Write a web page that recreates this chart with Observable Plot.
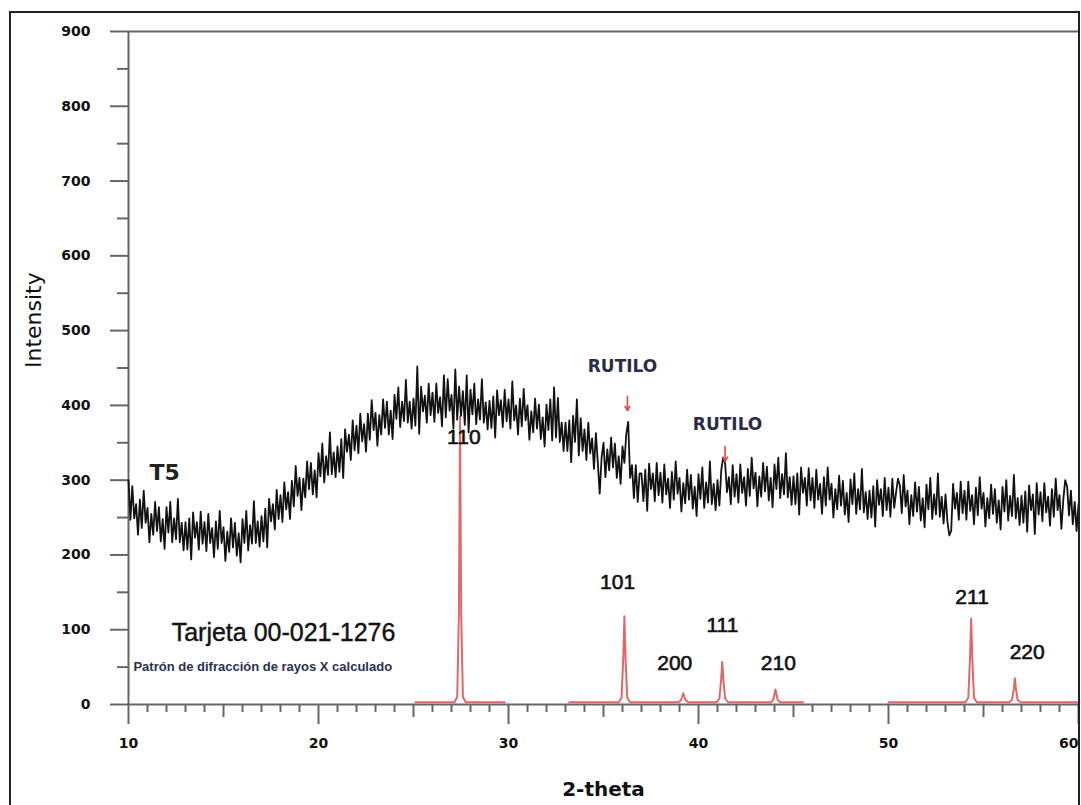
<!DOCTYPE html>
<html><head><meta charset="utf-8">
<script src="https://cdn.jsdelivr.net/npm/d3@7"></script>
<script src="https://cdn.jsdelivr.net/npm/@observablehq/plot@0.6"></script>
<style>
html,body{margin:0;padding:0;background:#fff;overflow:hidden;}
#chart{position:absolute;left:0;top:0;}
#frame{position:absolute;left:9px;top:11px;width:1071px;height:820px;border:2px solid #222;box-sizing:border-box;pointer-events:none;}
</style></head><body>
<div id="chart"></div><div id="frame"></div>
<script>
// Measured sample T5: intensity sampled every 0.1 degree from 10 to 60 (2-theta)
const thetaStart = 10, thetaStep = 0.1;
const counts = [
300,247,292,249,268,227,274,236,286,243,
263,217,255,227,271,232,264,218,248,208,
264,230,271,217,249,221,275,217,243,206,
244,207,249,194,257,223,244,207,258,215,
244,205,255,216,236,197,245,208,259,216,
237,192,231,204,249,210,243,199,229,190,
248,216,259,206,240,215,272,216,245,211,
252,218,262,210,275,245,268,234,287,248,
280,244,297,261,284,248,299,265,319,279,
303,260,302,277,325,288,323,281,313,277,
336,305,349,297,332,307,364,308,337,304,
345,311,355,303,368,338,361,327,380,340,
373,336,389,352,375,338,389,354,407,367,
390,346,387,361,408,370,405,361,393,355,
414,382,424,371,405,379,434,377,405,369,
409,373,452,362,425,392,413,377,429,387,
417,378,429,390,411,372,440,384,435,393,
414,369,448,381,425,386,419,374,440,364,
421,388,429,375,408,381,435,377,404,368,
406,370,412,357,420,387,407,371,421,379,
408,369,432,380,400,361,409,372,422,380,
400,354,392,364,409,369,401,355,384,345,
401,367,408,353,424,357,410,351,377,339,
377,339,380,324,386,351,408,333,383,339,
368,327,377,336,356,315,363,324,282,330,
350,304,341,313,357,317,349,303,332,295,
345,323,362,378,303,320,276,320,271,309,
309,272,314,259,322,288,309,272,323,280,
310,270,321,281,302,263,311,274,325,282,
303,258,296,269,314,274,307,262,291,252,
308,275,317,263,297,270,325,268,295,260,
300,266,314,330,323,284,304,268,320,278,
308,270,321,283,304,266,315,279,330,289,
310,265,305,278,323,285,318,273,303,264,
321,288,330,276,308,281,336,277,304,267,
305,268,309,254,317,283,303,266,316,273,
303,263,314,274,295,255,304,266,317,274,
295,250,288,261,306,266,299,254,283,244,
301,268,309,255,288,261,315,257,284,248,
286,250,292,238,300,267,288,252,303,260,
290,251,302,263,284,302,293,256,307,265,
286,241,280,252,297,258,291,246,276,237,
294,261,303,248,281,254,309,251,278,242,
281,245,226,232,295,262,283,247,298,256,
286,247,298,259,280,241,290,253,304,262,
283,238,276,249,294,255,288,243,273,234,
291,258,300,246,279,252,307,249,276,240,
279,243,285,231,293,260,281,228,296,254,
284,245,296,257,278,239,288,251,302,260,
280,235,274,300,292,253,286,241,271,232,
268
];

// Reference card 00-021-1276 (calculated pattern), three segments
const refTheta = [
25.1, 27.15, 27.30, 27.39, 27.45, 27.51, 27.60, 27.75, 29.8,
33.2, 35.8, 35.95, 36.04, 36.1, 36.16, 36.25, 36.4,
38.95, 39.08, 39.15, 39.2, 39.25, 39.32, 39.45,
40.95, 41.1, 41.19, 41.25, 41.31, 41.4, 41.55,
43.8, 43.93, 44.0, 44.05, 44.1, 44.17, 44.3, 45.5,
50.0, 54.05, 54.2, 54.29, 54.35, 54.41, 54.5, 54.65,
56.35, 56.5, 56.59, 56.65, 56.71, 56.8, 56.95, 60
];
const refI = [
3, 3, 10, 120, 385, 120, 10, 3, 3,
3, 3, 9, 62, 118, 62, 9, 3,
3, 6, 11, 15, 11, 6, 3,
3, 8, 33, 57, 33, 8, 3,
3, 6, 14, 20, 14, 6, 3, 3,
3, 3, 9, 62, 115, 62, 9, 3,
3, 6, 20, 35, 20, 6, 3, 3
];
const refSeg = [
1,1,1,1,1,1,1,1,1,
2,2,2,2,2,2,2,2,
2,2,2,2,2,2,2,
2,2,2,2,2,2,2,
2,2,2,2,2,2,2,2,
3,3,3,3,3,3,3,3,
3,3,3,3,3,3,3,3
];

const peakLabels = ["110","101","200","111","210","211","220"];
const peakLabelTheta = [27.65, 35.74, 38.75, 41.26, 44.2, 54.4, 57.3];
const peakLabelI = [357, 164, 55, 106, 55, 143, 70];

const rutiloTheta = [36.0, 41.53];
const rutiloI = [452, 374];
const arrowTheta = [36.26, 41.4];
const arrowTop = [412, 345];
const arrowBottom = [393, 325];

const yMajor = [0,100,200,300,400,500,600,700,800,900];
const yMinor = [50,150,250,350,450,550,650,750,850];
const xMajor = [10,20,30,40,50,60];
const xMid = [15,25,35,45,55];
const xMinor = [11,12,13,14,16,17,18,19,21,22,23,24,26,27,28,29,31,32,33,34,36,37,38,39,41,42,43,44,46,47,48,49,51,52,53,54,56,57,58,59];

const trace = counts.map((v, i) => ({t: thetaStart + i * thetaStep, v}));
const ref = refTheta.map((t, i) => ({t, v: refI[i], s: refSeg[i]}));

const axisGray = "#666";
const red = "#d94f4f";

const chart = Plot.plot({
  width: 1081,
  height: 805,
  marginLeft: 128,
  marginRight: 3,
  marginTop: 31,
  marginBottom: 101,
  style: {fontFamily: "DejaVu Sans", fontSize: "14px", fontWeight: "bold", background: "transparent", color: "#111"},
  x: {domain: [10, 60]},
  y: {domain: [0, 900]},
  marks: [
    Plot.ruleY([0], {stroke: axisGray, strokeWidth: 2}),
    Plot.ruleY([900], {stroke: axisGray, strokeWidth: 2}),
    Plot.ruleX([10], {stroke: axisGray, strokeWidth: 2}),
    Plot.axisY(yMajor, {tickSize: 18, tickPadding: 20, label: null, stroke: axisGray, strokeWidth: 2, fill: "#111"}),
    Plot.axisY(yMinor, {tickSize: 11, text: null, label: null, stroke: axisGray, strokeWidth: 2}),
    Plot.axisX(xMajor.slice(0, -1), {tickSize: 20, tickPadding: 14, label: null, stroke: axisGray, strokeWidth: 2, fill: "#111"}),
    Plot.axisX(xMajor.slice(-1), {tickSize: 20, tickPadding: 14, label: null, stroke: axisGray, strokeWidth: 2, fill: "#111", textAnchor: "end"}),
    Plot.axisX(xMid, {tickSize: 13, text: null, label: null, stroke: axisGray, strokeWidth: 2}),
    Plot.axisX(xMinor, {tickSize: 8, text: null, label: null, stroke: axisGray, strokeWidth: 2}),
    Plot.line(ref, {x: "t", y: "v", z: "s", stroke: red, strokeWidth: 2, strokeOpacity: 0.85}),
    Plot.line(trace, {x: "t", y: "v", stroke: "#111", strokeWidth: 1.8}),
    Plot.arrow(arrowTheta, {x1: d => d, x2: d => d, y1: (d, i) => arrowTop[i], y2: (d, i) => arrowBottom[i], stroke: "#e04848", strokeWidth: 1.6, headLength: 5}),
    Plot.text(peakLabels, {x: (d, i) => peakLabelTheta[i], y: (d, i) => peakLabelI[i], text: d => d, textAnchor: (d, i) => i === 0 ? "start" : "middle", fontFamily: "Liberation Sans", fontSize: 21, fontWeight: "normal", fill: "#111", stroke: "#111", strokeWidth: 0.6}),
    Plot.text(["RUTILO", "RUTILO"], {x: (d, i) => rutiloTheta[i], y: (d, i) => rutiloI[i], text: d => d, fontFamily: "DejaVu Sans", fontSize: 17, fontWeight: "bold", fill: "#2c2c48"}),
    Plot.text(["T5"], {x: [11.9], y: [310], text: d => d, fontFamily: "DejaVu Sans", fontSize: 22, fontWeight: "bold", fill: "#222"}),
    Plot.text(["Tarjeta 00-021-1276"], {x: [18.16], y: [96], text: d => d, fontFamily: "Liberation Sans", fontSize: 25, fontWeight: "normal", fill: "#111", stroke: "#111", strokeWidth: 0.4}),
    Plot.text(["Patrón de difracción de rayos X calculado"], {x: [10.26], y: [51], text: d => d, textAnchor: "start", fontFamily: "Liberation Sans", fontSize: 13, fontWeight: "bold", fill: "#2a3050"}),
    Plot.text(["Intensity"], {frameAnchor: "left", dx: -95, rotate: -90, text: d => d, fontFamily: "DejaVu Sans", fontSize: 22, fontWeight: "normal", fill: "#111"}),
    Plot.text(["2-theta"], {frameAnchor: "bottom", dy: 91, text: d => d, fontFamily: "DejaVu Sans", fontSize: 20, fontWeight: "bold", fill: "#111"})
  ]
});
document.getElementById("chart").appendChild(chart);
</script></body></html>
